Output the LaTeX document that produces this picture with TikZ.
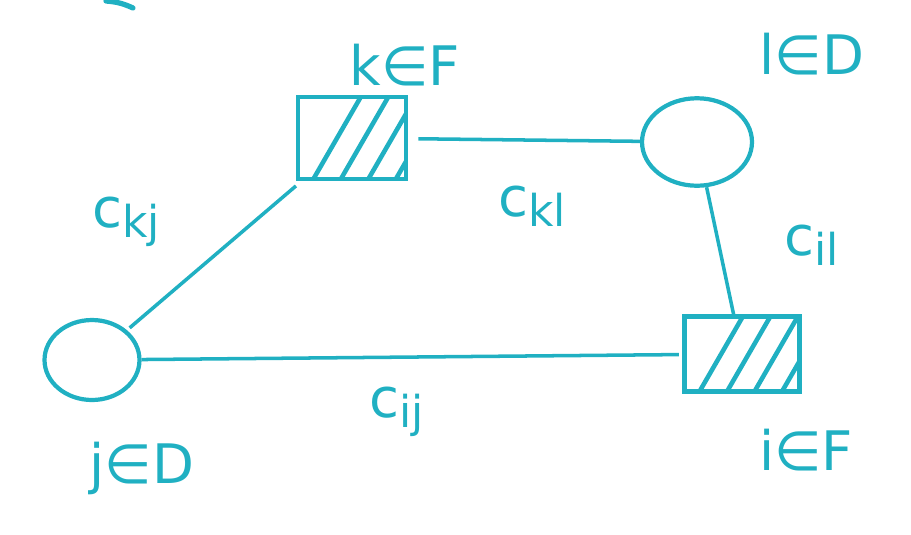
\documentclass[tikz,border=0pt]{standalone}
\usepackage{fontspec}
\setmainfont{DejaVu Sans}
\usepackage{tikz}
\usetikzlibrary{shapes.geometric}
\definecolor{sketchteal}{RGB}{32, 176, 194}
\newcommand{\lowidx}[1]{\raisebox{-0.35ex}{\fontsize{25}{28}\selectfont #1}}

\begin{document}
\begin{tikzpicture}[x=0.02cm, y=-0.02cm,
    every node/.style={font=\fontsize{31}{34}\selectfont, text=sketchteal},
    facility/.style={draw=sketchteal, line width=2.4pt, rectangle, minimum width=2.15cm, minimum height=1.65cm,
        path picture={\foreach \dx in {0.3cm,0.85cm,1.4cm,1.95cm}
            \draw[sketchteal, line width=2.6pt] ([xshift=\dx]path picture bounding box.south west) -- ++(60:2.4cm);}},
    client/.style={draw=sketchteal, line width=2.4pt, ellipse},
    link/.style={draw=sketchteal, line width=2pt}]
    \useasboundingbox (0,0) rectangle (911,534);

    % stray stroke at the top edge
    \coordinate (s1) at (106,1);
    \coordinate (s2) at (133,8);
    \draw[sketchteal, line width=3pt, line cap=round] (s1) to[bend left=10] (s2);

    % facilities and clients
    \node[facility] (k) at (352,138) {};
    \node[facility, minimum width=2.3cm, minimum height=1.5cm] (i) at (742,354) {};
    \node[client, minimum width=2.2cm, minimum height=1.75cm] (l) at (697,142) {};
    \node[client, minimum width=1.9cm, minimum height=1.6cm] (j) at (92,360) {};

    % names
    \node (klab) at (405,65) {k∈F};
    \node (llab) at (812,54) {l∈D};
    \node (jlab) at (142,468) {j∈D};
    \node (ilab) at (806,450) {i∈F};

    % connections
    \draw[link, shorten <=6pt] (k) -- (l);
    \draw[link] (l) -- (i);
    \draw[link, shorten <=2pt, shorten >=4pt] (j) -- (k);
    \draw[link, shorten >=2pt] (j) -- (i);

    % costs
    \node (ckl) at (532,206) {c\lowidx{kl}};
    \node (cil) at (812,245) {c\lowidx{il}};
    \node (ckj) at (126,222) {c\lowidx{kj}};
    \node (cij) at (397,412) {c\lowidx{ij}};
\end{tikzpicture}
\end{document}
